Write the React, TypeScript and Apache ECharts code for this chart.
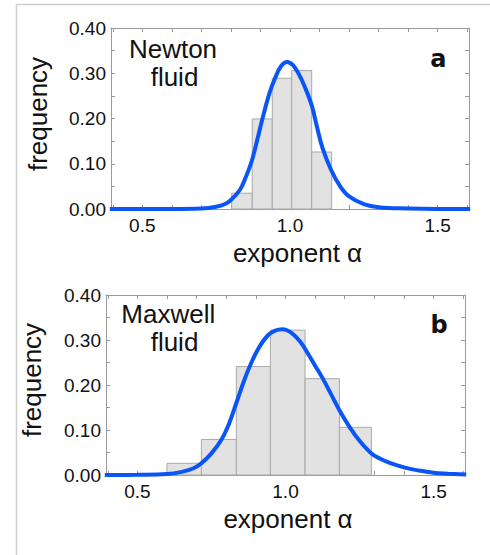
import React, { useEffect, useRef } from "react";
import * as echarts from "echarts";

// ---- tick / label values ----
const xTickValues = [0.4, 0.5, 0.6, 0.7, 0.8, 0.9, 1.0, 1.1, 1.2, 1.3, 1.4, 1.5, 1.6];
const xLabelValues = [0.5, 1.0, 1.5];

// ---- panel a : Newton fluid ----
const newtonBinEdges = [0.8025, 0.872, 0.94, 1.0056, 1.0735, 1.141];
const newtonFreq = [0.035, 0.199, 0.289, 0.306, 0.126];
const newtonFitAlpha = [0.39, 0.6, 0.7, 0.75, 0.78, 0.8, 0.83, 0.85, 0.87, 0.89, 0.905, 0.93, 0.95, 0.97, 0.99, 1.01, 1.03, 1.05, 1.074, 1.09, 1.11, 1.14, 1.17, 1.2, 1.25, 1.3, 1.4, 1.5, 1.61];
const newtonFitFreq = [0, 0, 0.001, 0.005, 0.011, 0.02, 0.042, 0.07, 0.105, 0.155, 0.195, 0.255, 0.29, 0.316, 0.325, 0.318, 0.298, 0.27, 0.228, 0.185, 0.135, 0.085, 0.05, 0.028, 0.011, 0.004, 0.001, 0, 0];

// ---- panel b : Maxwell fluid ----
const maxwellBinEdges = [0.6, 0.716, 0.834, 0.949, 1.066, 1.182, 1.29];
const maxwellFreq = [0.026, 0.079, 0.241, 0.322, 0.214, 0.106];
const maxwellFitAlpha = [0.39, 0.5, 0.6, 0.65, 0.69, 0.716, 0.75, 0.784, 0.81, 0.834, 0.855, 0.879, 0.91, 0.94, 0.965, 0.99, 1.02, 1.05, 1.08, 1.1, 1.127, 1.155, 1.182, 1.217, 1.25, 1.29, 1.32, 1.352, 1.4, 1.45, 1.5, 1.55, 1.61];
const maxwellFitFreq = [0, 0.0005, 0.002, 0.007, 0.015, 0.026, 0.048, 0.079, 0.115, 0.16, 0.2, 0.241, 0.283, 0.31, 0.321, 0.324, 0.316, 0.296, 0.265, 0.243, 0.213, 0.178, 0.144, 0.106, 0.076, 0.048, 0.036, 0.027, 0.017, 0.01, 0.005, 0.003, 0.001];

const FONT = "'Liberation Sans', Arial, sans-serif";
const AXIS_COLOR = "#9a9a9a";
const TEXT = "#111111";
const CURVE = "#0a55f5";

function bins(edges: number[], freq: number[]) {
  return freq.map((f, i) => [edges[i], edges[i + 1], f]);
}
function pts(xs: number[], ys: number[]) {
  return xs.map((x, i) => [x, ys[i]]);
}

function xAxes(gridIndex: number) {
  const base = {
    type: "value",
    gridIndex,
    min: 0.394,
    max: 1.606,
    splitLine: { show: false },
    axisLine: { show: true, onZero: false, lineStyle: { color: AXIS_COLOR, width: 1 } },
    axisTick: { show: true, inside: true, length: 4, customValues: xTickValues, lineStyle: { color: AXIS_COLOR } },
  };
  return [
    {
      ...base,
      position: "bottom",
      axisLabel: {
        show: true,
        customValues: xLabelValues,
        formatter: (v: number) => v.toFixed(1),
        fontFamily: FONT,
        fontSize: 19,
        color: TEXT,
        margin: 7,
      },
    },
    { ...base, position: "top", axisLabel: { show: false } },
  ];
}

function yAxes(gridIndex: number) {
  const base = {
    type: "value",
    gridIndex,
    min: 0,
    max: 0.4,
    interval: 0.1,
    splitLine: { show: false },
    axisLine: { show: true, onZero: false, lineStyle: { color: AXIS_COLOR, width: 1 } },
    axisTick: { show: true, inside: true, length: 4, lineStyle: { color: AXIS_COLOR } },
    minorTick: { show: true, splitNumber: 2, length: 4, lineStyle: { color: AXIS_COLOR } },
    minorSplitLine: { show: false },
  };
  return [
    {
      ...base,
      position: "left",
      axisLabel: {
        show: true,
        formatter: (v: number) => v.toFixed(2),
        fontFamily: FONT,
        fontSize: 19,
        color: TEXT,
        margin: 5,
      },
    },
    { ...base, position: "right", axisLabel: { show: false } },
  ];
}

function histSeries(xAxisIndex: number, yAxisIndex: number, data: number[][]) {
  return {
    type: "custom",
    xAxisIndex,
    yAxisIndex,
    data,
    encode: { x: [0, 1], y: 2 },
    z: 2,
    renderItem: (params: any, api: any) => {
      const p0 = api.coord([api.value(0), api.value(2)]);
      const p1 = api.coord([api.value(1), 0]);
      return {
        type: "rect",
        shape: { x: p0[0], y: p0[1], width: p1[0] - p0[0], height: p1[1] - p0[1] },
        style: { fill: "#e2e2e2", stroke: "#a9a9a9", lineWidth: 1 },
      };
    },
  };
}

function fitSeries(xAxisIndex: number, yAxisIndex: number, data: number[][]) {
  return {
    type: "line",
    xAxisIndex,
    yAxisIndex,
    data,
    smooth: 0.4,
    showSymbol: false,
    symbol: "none",
    z: 5,
    lineStyle: { color: CURVE, width: 4 },
  };
}

function txt(text: string, x: number, y: number, size: number, opts: any = {}) {
  return {
    type: "text",
    x,
    y,
    rotation: opts.rotation || 0,
    z: 10,
    style: {
      text,
      fontFamily: opts.fontFamily || FONT,
      fontSize: size,
      fontWeight: opts.fontWeight || "normal",
      fill: TEXT,
      align: "center",
      verticalAlign: "middle",
    },
  };
}

export default function App() {
  const ref = useRef<HTMLDivElement>(null);
  useEffect(() => {
    if (!ref.current) return;
    const chart = echarts.init(ref.current, undefined, { renderer: "svg" });
    const option: any = {
      animation: false,
      backgroundColor: "#ffffff",
      grid: [
        { left: 111, top: 28, width: 358, height: 181 },
        { left: 106, top: 295, width: 359, height: 180 },
      ],
      xAxis: [...xAxes(0), ...xAxes(1)],
      yAxis: [...yAxes(0), ...yAxes(1)],
      series: [
        histSeries(0, 0, bins(newtonBinEdges, newtonFreq)),
        fitSeries(0, 0, pts(newtonFitAlpha, newtonFitFreq)),
        histSeries(2, 2, bins(maxwellBinEdges, maxwellFreq)),
        fitSeries(2, 2, pts(maxwellFitAlpha, maxwellFitFreq)),
      ],
      graphic: [
        { type: "line", shape: { x1: 16, y1: 4.5, x2: 490, y2: 4.5 }, style: { stroke: "#cfcfcf", lineWidth: 1.5 } },
        { type: "line", shape: { x1: 16.5, y1: 4, x2: 16.5, y2: 555 }, style: { stroke: "#cfcfcf", lineWidth: 1.5 } },
        txt("Newton", 173, 49.3, 26),
        txt("fluid", 174.5, 77, 26),
        txt("a", 438.3, 58.7, 24, { fontFamily: "'DejaVu Sans', sans-serif", fontWeight: "bold" }),
        txt("frequency", 37.5, 114, 26, { rotation: Math.PI / 2 }),
        txt("exponent \u03b1", 297.5, 253, 26),
        txt("Maxwell", 168.3, 313.7, 26),
        txt("fluid", 174.5, 341.7, 26),
        txt("b", 439.2, 324.7, 24, { fontFamily: "'DejaVu Sans', sans-serif", fontWeight: "bold" }),
        txt("frequency", 32, 380, 26, { rotation: Math.PI / 2 }),
        txt("exponent \u03b1", 288, 519.3, 26),
      ],
    };
    chart.setOption(option);
    return () => chart.dispose();
  }, []);
  return (
    <div
      ref={ref}
      style={{ position: "absolute", left: 0, top: 0, width: 490, height: 555 }}
    />
  );
}
